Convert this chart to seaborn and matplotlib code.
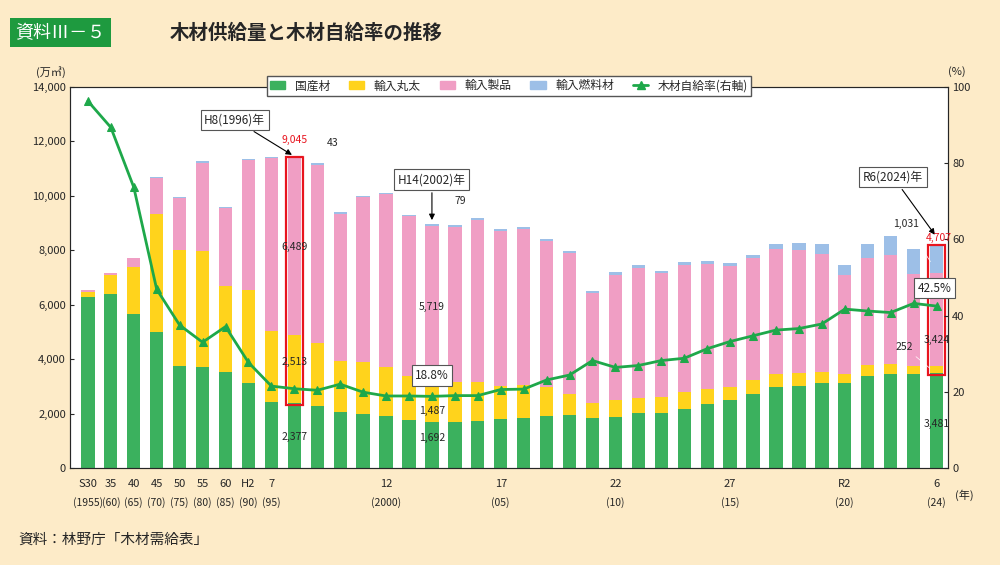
import numpy as np
import pandas as pd
import seaborn as sns
from matplotlib import pyplot as plt
from matplotlib.patches import Rectangle
from matplotlib.lines import Line2D

years = [1955, 1960, 1965, 1970, 1975, 1980, 1985, 1990, 1995] + list(range(1996, 2025))
domestic = [6300, 6400, 5670, 4990, 3730, 3700, 3540, 3140, 2440, 2377, 2280, 2060, 2000, 1900,
            1760, 1692, 1700, 1730, 1790, 1830, 1920, 1940, 1830, 1890, 2010, 2030, 2170, 2360,
            2490, 2720, 2980, 3030, 3110, 3120, 3390, 3470, 3440, 3481]
import_log = [180, 680, 1700, 4360, 4280, 4260, 3160, 3400, 2600, 2513, 2300, 1860, 1890, 1810,
              1620, 1487, 1460, 1440, 1240, 1210, 1070, 780, 560, 610, 570, 580, 610, 540,
              490, 520, 470, 450, 420, 340, 380, 360, 310, 252]
import_prod = [60, 100, 340, 1300, 1900, 3240, 2840, 4790, 6340, 6489, 6570, 5430, 6060, 6360,
               5870, 5719, 5700, 5940, 5670, 5750, 5350, 5190, 4030, 4600, 4780, 4540, 4680, 4600,
               4460, 4470, 4590, 4520, 4350, 3620, 3940, 3990, 3370, 3424]
import_fuel = [0, 0, 0, 50, 40, 70, 40, 40, 40, 43, 50, 40, 50, 50,
               60, 79, 60, 70, 70, 70, 70, 70, 70, 100, 100, 90, 110, 110,
               100, 130, 180, 270, 340, 390, 530, 720, 910, 1031]
self_rate = [96.3, 89.4, 73.7, 46.9, 37.5, 33.0, 37.1, 27.7, 21.5, 20.8, 20.4, 22.0, 19.9, 18.9,
             18.9, 18.8, 19.0, 19.0, 20.6, 20.7, 23.1, 24.4, 28.2, 26.4, 26.9, 28.2, 28.8, 31.3,
             33.2, 34.7, 36.2, 36.6, 37.8, 41.7, 41.2, 40.8, 43.2, 42.5]

tick_pos = [0, 1, 2, 3, 4, 5, 6, 7, 8, 13, 18, 23, 28, 33, 37]
tick_top = ["S30", "35", "40", "45", "50", "55", "60", "H2", "7", "12", "17", "22", "27", "R2", "6"]
tick_bot = ["(1955)", "(60)", "(65)", "(70)", "(75)", "(80)", "(85)", "(90)", "(95)",
            "(2000)", "(05)", "(10)", "(15)", "(20)", "(24)"]

sns.set_style("white")
plt.rcParams['font.family'] = ['Noto Sans CJK JP', 'DejaVu Sans']

bg = "#FDEBC8"
c_green, c_yel, c_pink, c_blue, c_line = "#3BB15E", "#FFD31C", "#F09EC4", "#9DBFE7", "#1EA84A"

df = pd.DataFrame({"x": np.arange(len(years)), "g": domestic, "y": import_log,
                   "p": import_prod, "f": import_fuel, "r": self_rate})
df["gy"] = df.g + df.y
df["gyp"] = df.gy + df.p
df["tot"] = df.gyp + df.f

fig = plt.figure(figsize=(10, 5.65), dpi=100, facecolor=bg)
ax = fig.add_axes([0.07, 0.1717, 0.878, 0.6743])
ax.set_facecolor("white")
# stacked bars drawn as overlapping cumulative totals
for col, c in (("tot", c_blue), ("gyp", c_pink), ("gy", c_yel), ("g", c_green)):
    sns.barplot(data=df, x="x", y=col, color=c, width=0.58, saturation=1, ax=ax,
                edgecolor="none", native_scale=True)
ax.set_xlim(-0.78, 37.4)
ax.set_ylim(0, 14000)
ax.set_yticks(range(0, 14001, 2000))
ax.set_yticklabels([f"{v:,}" for v in range(0, 14001, 2000)], fontsize=8)
ax.set_xticks(np.arange(-0.5, 37.6, 1))
ax.set_xticklabels([])
ax.tick_params(axis="x", length=3, direction="in")
ax.tick_params(axis="y", length=3, direction="in", pad=3)
ax.set_xlabel("")
ax.set_ylabel("")
for s in ax.spines.values():
    s.set_color("#555555")
    s.set_linewidth(0.8)
for p, t, b in zip(tick_pos, tick_top, tick_bot):
    ax.text(p, -420, t, ha="center", va="top", fontsize=8)
    ax.text(p, -1080, b, ha="center", va="top", fontsize=7.5)
ax.text(38.2, -1000, "(年)", ha="center", va="center", fontsize=8)
ax.text(-1.6, 14550, "(万㎥)", ha="center", va="center", fontsize=8)

ax.add_patch(Rectangle((9 - 0.38, 2300), 0.76, df.tot[9] - 2300, fill=False, ec="#E8141E", lw=1.6, zorder=5))
ax.add_patch(Rectangle((37 - 0.38, df.g[37] - 80), 0.76, df.tot[37] - df.g[37] + 80, fill=False, ec="#E8141E", lw=1.6, zorder=5))

ax2 = ax.twinx()
sns.lineplot(data=df, x="x", y="r", color=c_line, lw=2, marker="^", markersize=6,
             markeredgecolor=c_line, ax=ax2)
ax2.set_ylim(0, 100)
ax2.set_yticks(range(0, 101, 20))
ax2.set_yticklabels([str(v) for v in range(0, 101, 20)], fontsize=8)
ax2.tick_params(axis="y", length=3, direction="in", pad=3)
ax2.set_ylabel("")
ax2.text(37.9, 104, "(%)", ha="center", va="center", fontsize=8)

# annotations (in bar data units, drawn on top axes)
tr = ax.transData
bbox = dict(boxstyle="square,pad=0.3", fc="white", ec="#555555", lw=0.8)
arw = dict(arrowstyle="-|>", color="black", lw=0.8)
thin = dict(arrowstyle="-", lw=0.5)
ax2.annotate("H8(1996)年", xy=(9, df.tot[9] + 30), xytext=(6.4, 12800), xycoords=tr, textcoords=tr,
             fontsize=8.5, ha="center", va="center", bbox=bbox, arrowprops=arw)
ax2.annotate("H14(2002)年", xy=(15, df.tot[15] + 30), xytext=(15, 10600), xycoords=tr, textcoords=tr,
             fontsize=8.5, ha="center", va="center", bbox=bbox, arrowprops=arw)
ax2.annotate("R6(2024)年", xy=(37, df.tot[37] + 300), xytext=(35.1, 10700), xycoords=tr, textcoords=tr,
             fontsize=8.5, ha="center", va="center", bbox=bbox, arrowprops=arw)
ax2.text(9.0, 11950, "9,045", color="#E8141E", fontsize=7.5, ha="center", transform=tr)
ax2.annotate("43", xy=(9.3, df.tot[9]), xytext=(10.4, 11850), xycoords=tr, textcoords=tr,
             fontsize=7.5, arrowprops=thin)
ax2.text(9.0, df.gy[9] + df.p[9] / 2, "6,489", fontsize=7.5, ha="center", va="center", transform=tr)
ax2.text(9.0, 3900, "2,513", fontsize=7.5, ha="center", va="center", transform=tr)
ax2.text(9.0, 1150, "2,377", fontsize=7.5, ha="center", va="center", transform=tr)
ax2.annotate("79", xy=(15.3, df.tot[15]), xytext=(16.0, 9700), xycoords=tr, textcoords=tr,
             fontsize=7.5, arrowprops=thin)
ax2.text(15, 5900, "5,719", fontsize=7.5, ha="center", va="center", transform=tr)
ax2.text(15, 2100, "1,487", fontsize=7.5, ha="center", va="center", transform=tr)
ax2.text(15, 1100, "1,692", fontsize=7.5, ha="center", va="center", transform=tr)
ax2.text(15, 3400, "18.8%", fontsize=8.5, ha="center", va="center", bbox=bbox, transform=tr)
ax2.text(36.9, 6600, "42.5%", fontsize=8.5, ha="center", va="center", bbox=bbox, transform=tr)
ax2.text(37.1, 8350, "4,707", color="#E8141E", fontsize=7.5, ha="center", transform=tr)
ax2.annotate("1,031", xy=(36.8, 7500), xytext=(35.1, 8850), xycoords=tr, textcoords=tr,
             fontsize=7.5, arrowprops=thin)
ax2.text(37, 4700, "3,424", fontsize=7.5, ha="center", va="center", transform=tr)
ax2.annotate("252", xy=(36.8, 3600), xytext=(35.2, 4350), xycoords=tr, textcoords=tr,
             fontsize=7.5, arrowprops=thin)
ax2.text(37, 1600, "3,481", fontsize=7.5, ha="center", va="center", transform=tr)

handles = [Rectangle((0, 0), 1, 1, color=c) for c in (c_green, c_yel, c_pink, c_blue)]
handles.append(Line2D([], [], color=c_line, lw=2, marker="^", markersize=6))
if ax2.get_legend():
    ax2.get_legend().remove()
leg = ax2.legend(handles, ["国産材", "輸入丸太", "輸入製品", "輸入燃料材", "木材自給率(右軸)"],
                 loc="upper center", bbox_to_anchor=(0.5, 1.045), ncol=5, fontsize=8.5,
                 frameon=True, edgecolor="#555555", fancybox=False, handlelength=1.3,
                 columnspacing=1.6, borderpad=0.3, framealpha=1)

fig.text(0.015, 0.942, "資料Ⅲ－５", fontsize=13, color="white", va="center",
         bbox=dict(boxstyle="square,pad=0.3", fc="#1E9A3F", ec="none"))
fig.text(0.17, 0.942, "木材供給量と木材自給率の推移", fontsize=14, fontweight="bold", va="center")
fig.text(0.018, 0.045, "資料：林野庁「木材需給表」", fontsize=10.5, va="center")

fig.savefig("out.png", dpi=100, facecolor=bg)
